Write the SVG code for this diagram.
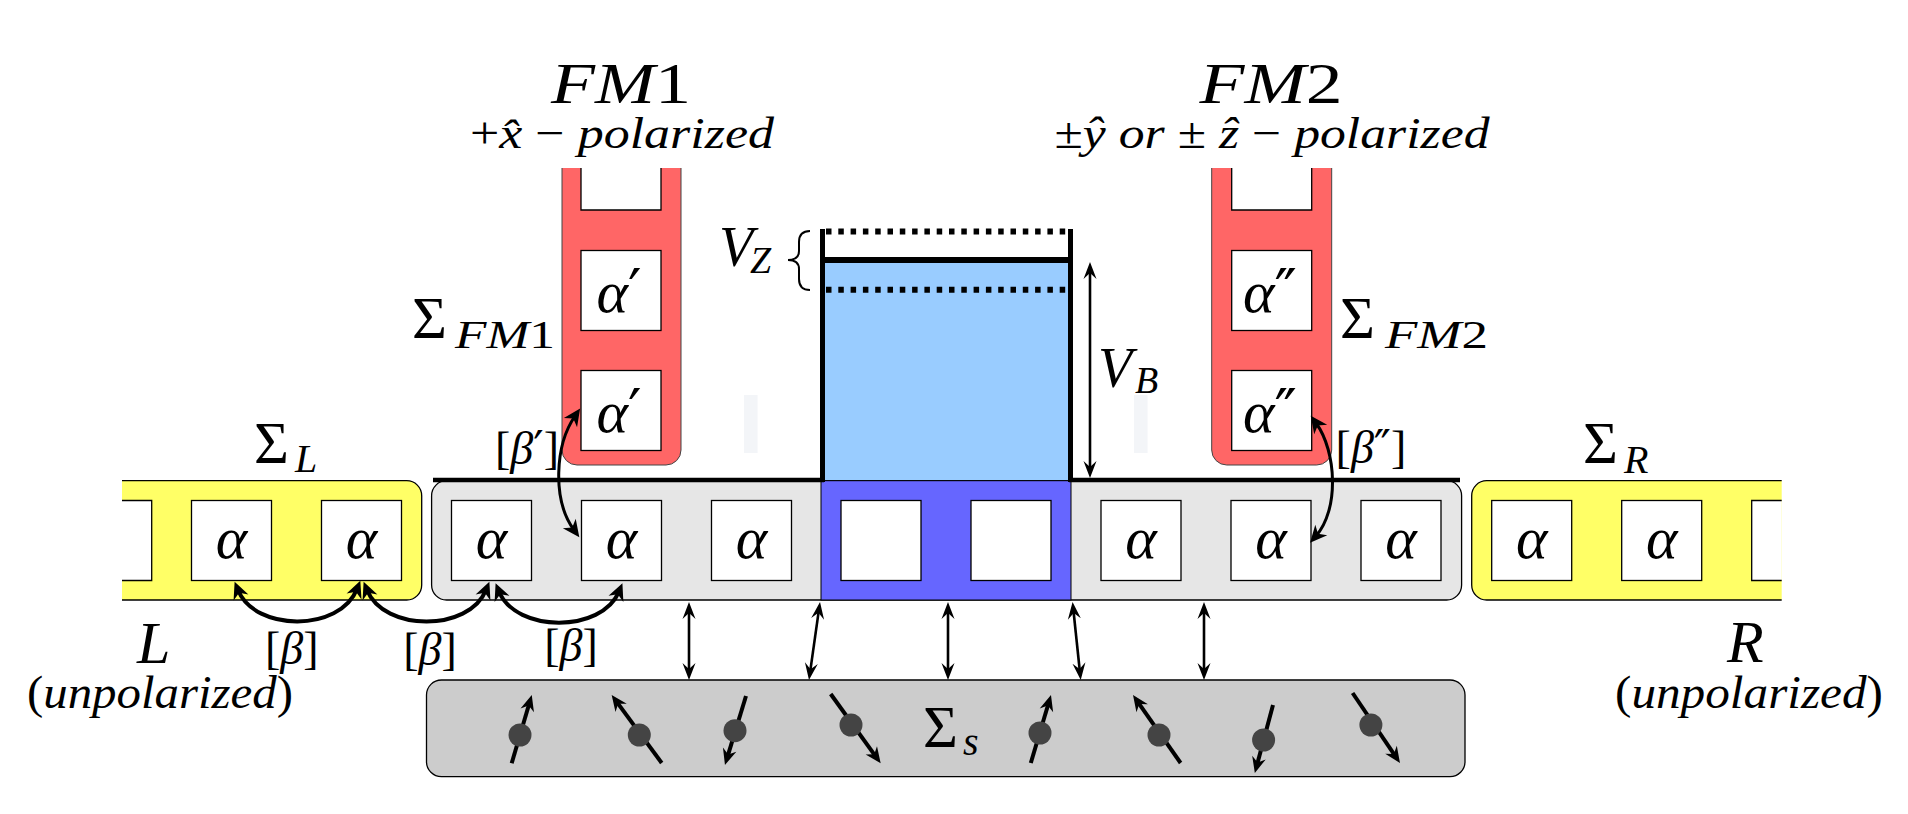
<svg xmlns="http://www.w3.org/2000/svg" width="1908" height="814" viewBox="0 0 1908 814">
<defs>
<marker id="h1" viewBox="-17 -7 18 14" refX="-8" refY="0" markerWidth="18" markerHeight="14" markerUnits="userSpaceOnUse" orient="auto-start-reverse"><path d="M0,0 L-17,-6.5 L-11,0 L-17,6.5 Z"/></marker>
<marker id="h2" viewBox="-18 -9 19 18" refX="-9" refY="0" markerWidth="19" markerHeight="18" markerUnits="userSpaceOnUse" orient="auto-start-reverse"><path d="M0,0 L-17,-8 L-12,0 L-17,8 Z"/></marker>
<marker id="h3" viewBox="-17 -8 18 16" refX="-8" refY="0" markerWidth="18" markerHeight="16" markerUnits="userSpaceOnUse" orient="auto"><path d="M0,0 L-16,-7 L-11,0 L-16,7 Z"/></marker>
</defs>

<rect width="1908" height="814" fill="#fff"/>

<g fill="#f3f5f8">
<rect x="744" y="395" width="13.6" height="58"/>
<rect x="1134" y="395" width="13.6" height="58"/>
</g>

<g id="lead-L">
<path d="M122,480.7 H406.7 A15,15 0 0 1 421.7,495.7 V585 A15,15 0 0 1 406.7,600 H122" fill="#ffff66" stroke="#000" stroke-width="1.3"/>
<g fill="#fff" stroke="#000" stroke-width="1.3">
<path d="M122,500.5 H151.7 V580.5 H122"/>
<rect x="191.5" y="500.5" width="80" height="80"/>
<rect x="321.5" y="500.5" width="80" height="80"/>
</g>
<text x="231.5" y="558" font-family="Liberation Serif" font-style="italic" font-size="60" text-anchor="middle">α</text>
<text x="361.5" y="558" font-family="Liberation Serif" font-style="italic" font-size="60" text-anchor="middle">α</text>
<text x="254" y="463" font-family="Liberation Serif" font-size="60">Σ<tspan font-style="italic" x="295" y="472" font-size="40">L</tspan></text>
<text x="137" y="663" font-family="Liberation Serif" font-style="italic" font-size="60">L</text>
<text x="27" y="708" font-family="Liberation Serif" font-size="46" textLength="266" lengthAdjust="spacingAndGlyphs">(<tspan font-style="italic">unpolarized</tspan>)</text>
</g>

<g id="central">
<rect x="431.6" y="480.7" width="1030" height="119.3" rx="15" fill="#e6e6e6" stroke="#000" stroke-width="1.3"/>
<rect x="821" y="480.7" width="250" height="119.3" fill="#6666ff" stroke="#000" stroke-width="1"/>
<g fill="#fff" stroke="#000" stroke-width="1.3">
<rect x="451.5" y="500.5" width="80" height="80"/>
<rect x="581.5" y="500.5" width="80" height="80"/>
<rect x="711.5" y="500.5" width="80" height="80"/>
<rect x="841" y="500.5" width="80" height="80"/>
<rect x="971" y="500.5" width="80" height="80"/>
<rect x="1101" y="500.5" width="80" height="80"/>
<rect x="1231" y="500.5" width="80" height="80"/>
<rect x="1361" y="500.5" width="80" height="80"/>
</g>
<text x="491.5" y="558" font-family="Liberation Serif" font-style="italic" font-size="60" text-anchor="middle">α</text>
<text x="621.5" y="558" font-family="Liberation Serif" font-style="italic" font-size="60" text-anchor="middle">α</text>
<text x="751.5" y="558" font-family="Liberation Serif" font-style="italic" font-size="60" text-anchor="middle">α</text>
<text x="1141" y="558" font-family="Liberation Serif" font-style="italic" font-size="60" text-anchor="middle">α</text>
<text x="1271" y="558" font-family="Liberation Serif" font-style="italic" font-size="60" text-anchor="middle">α</text>
<text x="1401" y="558" font-family="Liberation Serif" font-style="italic" font-size="60" text-anchor="middle">α</text>
<path d="M433,480 H824 M1069,480 H1460" stroke="#000" stroke-width="4.5" fill="none"/>
</g>

<g id="barrier">
<rect x="822.5" y="260" width="248" height="220" fill="#99ccff"/>
<path d="M826,231.5 H1068 M826,289.7 H1068" fill="none" stroke="#000" stroke-width="6" stroke-dasharray="5.5 6.8"/>
<path d="M822.5,260 H1070.5" stroke="#000" stroke-width="6" fill="none"/>
<path d="M822.5,229 V482 M1070.5,229 V482" fill="none" stroke="#000" stroke-width="5"/>
<path d="M810,231 Q799,231 799,242 V251 Q799,260 788,260 Q799,260 799,269 V279 Q799,290 810,290" fill="none" stroke="#000" stroke-width="2"/>
<text x="719" y="266" font-family="Liberation Serif" font-style="italic" font-size="56">V<tspan x="750" y="273" font-size="38">Z</tspan></text>
<text x="1098" y="387" font-family="Liberation Serif" font-style="italic" font-size="56">V<tspan x="1135" y="393" font-size="38">B</tspan></text>
</g>

<g id="FM1">
<path d="M562,168 V450 A15,15 0 0 0 577,465 H666 A15,15 0 0 0 681,450 V168" fill="#ff6666" stroke="#444" stroke-width="1"/>
<g fill="#fff" stroke="#000" stroke-width="1.3">
<path d="M581,168 V210 H661 V168"/>
<rect x="581" y="250.5" width="80" height="80"/>
<rect x="581" y="370.5" width="80" height="80"/>
</g>
<text x="619" y="311.5" font-family="Liberation Serif" font-style="italic" font-size="60" text-anchor="middle">α<tspan font-family="DejaVu Serif" font-style="normal">′</tspan></text>
<text x="619" y="431.5" font-family="Liberation Serif" font-style="italic" font-size="60" text-anchor="middle">α<tspan font-family="DejaVu Serif" font-style="normal">′</tspan></text>
<text x="621" y="103" font-family="Liberation Serif" font-size="57" text-anchor="middle" textLength="140" lengthAdjust="spacingAndGlyphs"><tspan font-style="italic">FM</tspan>1</text>
<text x="622" y="148" font-family="Liberation Serif" font-size="44" text-anchor="middle" textLength="304" lengthAdjust="spacingAndGlyphs">+<tspan font-style="italic">x̂</tspan> − <tspan font-style="italic">polarized</tspan></text>
<text x="412" y="338" font-family="Liberation Serif" font-size="60">Σ<tspan font-style="italic" x="455" y="348" font-size="40" textLength="100" lengthAdjust="spacingAndGlyphs">FM<tspan font-style="normal">1</tspan></tspan></text>
</g>

<g id="FM2">
<path d="M1211.7,168 V450 A15,15 0 0 0 1226.7,465 H1316.7 A15,15 0 0 0 1331.7,450 V168" fill="#ff6666" stroke="#444" stroke-width="1"/>
<g fill="#fff" stroke="#000" stroke-width="1.3">
<path d="M1231.7,168 V210 H1311.7 V168"/>
<rect x="1231.7" y="250.5" width="80" height="80"/>
<rect x="1231.7" y="370.5" width="80" height="80"/>
</g>
<text x="1270" y="311.5" font-family="Liberation Serif" font-style="italic" font-size="60" text-anchor="middle">α<tspan font-family="DejaVu Serif" font-style="normal">″</tspan></text>
<text x="1270" y="431.5" font-family="Liberation Serif" font-style="italic" font-size="60" text-anchor="middle">α<tspan font-family="DejaVu Serif" font-style="normal">″</tspan></text>
<text x="1271" y="103" font-family="Liberation Serif" font-size="57" text-anchor="middle" textLength="143" lengthAdjust="spacingAndGlyphs"><tspan font-style="italic">FM</tspan>2</text>
<text x="1272" y="148" font-family="Liberation Serif" font-size="44" text-anchor="middle" textLength="435" lengthAdjust="spacingAndGlyphs">±<tspan font-style="italic">ŷ or</tspan> ± <tspan font-style="italic">ẑ</tspan> − <tspan font-style="italic">polarized</tspan></text>
<text x="1340" y="338" font-family="Liberation Serif" font-size="60">Σ<tspan font-style="italic" x="1385" y="348" font-size="40" textLength="103" lengthAdjust="spacingAndGlyphs">FM<tspan font-style="normal">2</tspan></tspan></text>
</g>

<g id="lead-R">
<path d="M1781.7,480.7 H1486.7 A15,15 0 0 0 1471.7,495.7 V585 A15,15 0 0 0 1486.7,600 H1781.7" fill="#ffff66" stroke="#000" stroke-width="1.3"/>
<g fill="#fff" stroke="#000" stroke-width="1.3">
<rect x="1491.7" y="500.5" width="80" height="80"/>
<rect x="1621.7" y="500.5" width="80" height="80"/>
<path d="M1781.7,500.5 H1751.7 V580.5 H1781.7"/>
</g>
<text x="1531.7" y="558" font-family="Liberation Serif" font-style="italic" font-size="60" text-anchor="middle">α</text>
<text x="1661.7" y="558" font-family="Liberation Serif" font-style="italic" font-size="60" text-anchor="middle">α</text>
<text x="1583" y="463" font-family="Liberation Serif" font-size="60">Σ<tspan font-style="italic" x="1624" y="473" font-size="40">R</tspan></text>
<text x="1727" y="662" font-family="Liberation Serif" font-style="italic" font-size="60">R</text>
<text x="1615" y="708" font-family="Liberation Serif" font-size="46" textLength="268" lengthAdjust="spacingAndGlyphs">(<tspan font-style="italic">unpolarized</tspan>)</text>
</g>

<g id="spin-bath">
<rect x="426.5" y="680" width="1038.5" height="96.7" rx="15" fill="#cccccc" stroke="#000" stroke-width="1.3"/>
<text x="923" y="747" font-family="Liberation Serif" font-size="60">Σ<tspan font-style="italic" x="963" y="755" font-size="40">s</tspan></text>
<g fill="none" stroke="#000" stroke-width="4" marker-end="url(#h3)">
<path d="M511.7,763.3 L529.5,702.7"/>
<path d="M661.7,763 L616.4,701.4"/>
<path d="M746,696 L727.3,757.3"/>
<path d="M830.7,694 L876,756.8"/>
<path d="M1030.8,763 L1048.7,702.7"/>
<path d="M1180.6,763 L1137.6,701.6"/>
<path d="M1273,705 L1256.9,765.3"/>
<path d="M1352.6,693 L1395.5,756.4"/>
</g>
<g fill="#444">
<circle cx="520" cy="735" r="11.5"/>
<circle cx="639.3" cy="735" r="11.5"/>
<circle cx="735" cy="730.7" r="11.5"/>
<circle cx="851" cy="725" r="11.5"/>
<circle cx="1040" cy="733" r="11.5"/>
<circle cx="1159" cy="735" r="11.5"/>
<circle cx="1263.6" cy="740" r="11.5"/>
<circle cx="1370.9" cy="725" r="11.5"/>
</g>
</g>

<g id="connectors">
<g fill="none" stroke="#000" stroke-width="4" marker-start="url(#h2)" marker-end="url(#h2)">
<path d="M238,590 C255,632 340,632 357,589"/>
<path d="M367,590 C384,632 469,632 486,590"/>
<path d="M499,591.5 C516,633 602,633 619,591.5"/>
</g>
<g fill="none" stroke="#000" stroke-width="3" marker-start="url(#h2)" marker-end="url(#h2)">
<path d="M575,416 C555,445 552,500 574,530"/>
<path d="M1316,423 C1337,452 1339,510 1316,536"/>
</g>
<g fill="none" stroke="#000" stroke-width="2.6" marker-start="url(#h1)" marker-end="url(#h1)">
<path d="M689,610 V672"/>
<path d="M818.9,609.9 L810.1,672.1"/>
<path d="M948,610 V672"/>
<path d="M1073.4,610 L1079.9,672"/>
<path d="M1204,610 V672"/>
<path d="M1090,270 V470"/>
</g>
</g>

<g id="labels">
<text x="291.7" y="664" font-family="Liberation Serif" font-size="46" text-anchor="middle">[<tspan font-style="italic">β</tspan>]</text>
<text x="430" y="665" font-family="Liberation Serif" font-size="46" text-anchor="middle">[<tspan font-style="italic">β</tspan>]</text>
<text x="571" y="661" font-family="Liberation Serif" font-size="46" text-anchor="middle">[<tspan font-style="italic">β</tspan>]</text>
<text x="527" y="464" font-family="Liberation Serif" font-size="46" text-anchor="middle">[<tspan font-style="italic">β</tspan><tspan font-family="DejaVu Serif">′</tspan>]</text>
<text x="1371" y="463" font-family="Liberation Serif" font-size="46" text-anchor="middle">[<tspan font-style="italic">β</tspan><tspan font-family="DejaVu Serif">″</tspan>]</text>
</g>
</svg>
